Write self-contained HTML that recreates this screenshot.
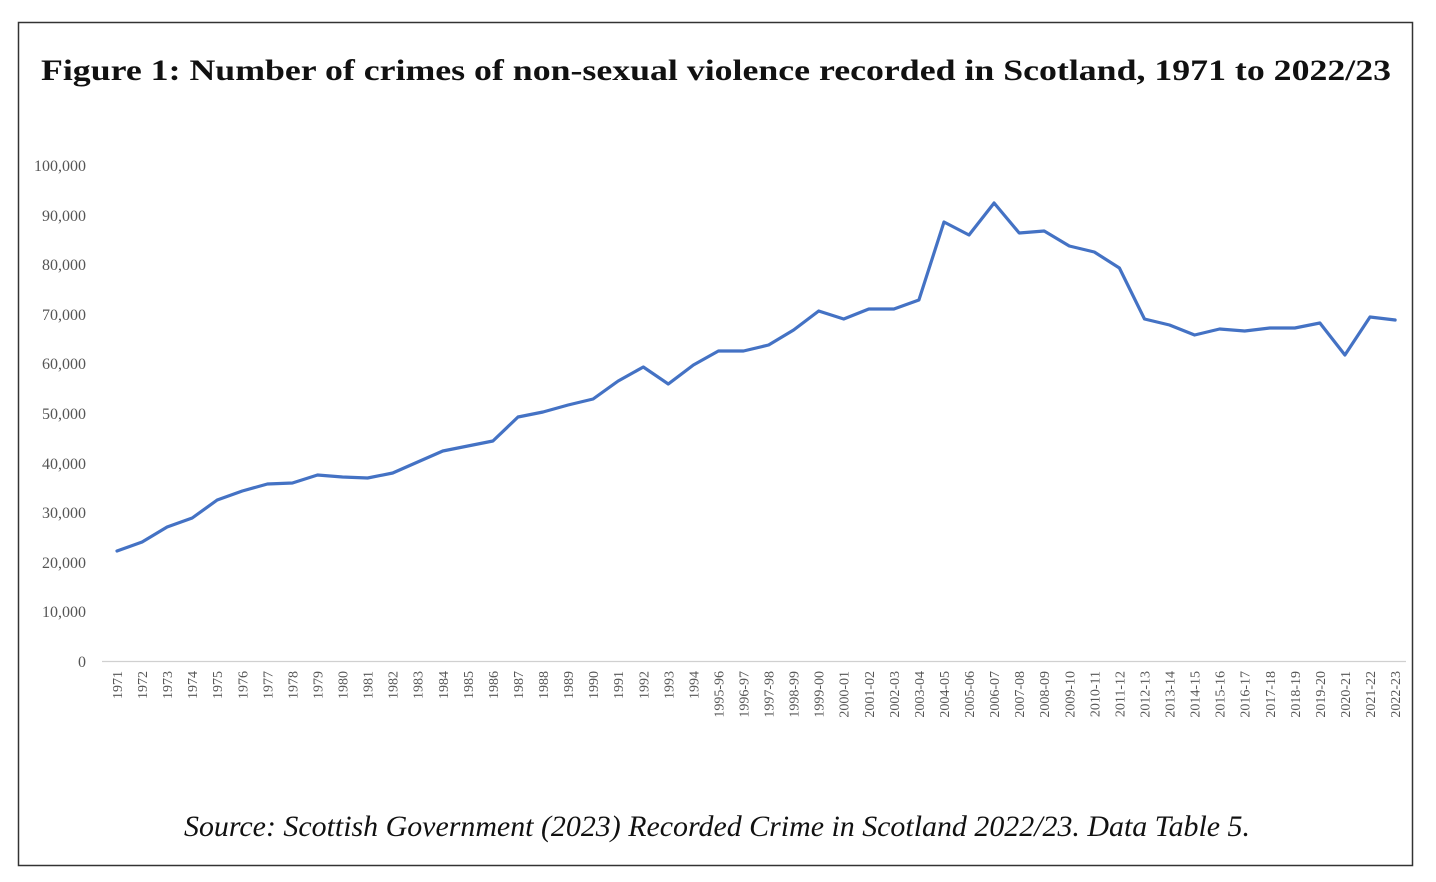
<!DOCTYPE html>
<html><head><meta charset="utf-8"><style>
html,body{margin:0;padding:0;background:#fff;}
svg{display:block;}
</style></head><body>
<svg width="1436" height="882" xmlns="http://www.w3.org/2000/svg">
<rect x="0" y="0" width="1436" height="882" fill="#fff"/>
<rect x="18.5" y="22.5" width="1394" height="843" fill="none" stroke="#333" stroke-width="1.5"/>
<text x="716" y="80" text-anchor="middle" font-family="Liberation Serif, serif" font-weight="bold" font-size="30" textLength="1350" lengthAdjust="spacingAndGlyphs" fill="#111">Figure 1: Number of crimes of non-sexual violence recorded in Scotland, 1971 to 2022/23</text>
<g font-family="Liberation Serif, serif" font-size="16" fill="#555" text-anchor="end">
<text x="86" y="667">0</text>
<text x="86" y="617">10,000</text>
<text x="86" y="568">20,000</text>
<text x="86" y="518">30,000</text>
<text x="86" y="469">40,000</text>
<text x="86" y="419">50,000</text>
<text x="86" y="369">60,000</text>
<text x="86" y="320">70,000</text>
<text x="86" y="270">80,000</text>
<text x="86" y="221">90,000</text>
<text x="86" y="171">100,000</text>
</g>
<line x1="102" y1="661.5" x2="1406" y2="661.5" stroke="#d0d0d0" stroke-width="1.2"/>
<g id="xl" font-family="Liberation Serif, serif" font-size="14" fill="#555" text-anchor="end"></g>
<polyline id="ln" fill="none" stroke="#4472C4" stroke-width="3.2" stroke-linejoin="round" stroke-linecap="round" points=""/>
<text x="717" y="836" text-anchor="middle" font-family="Liberation Serif, serif" font-style="italic" font-size="30" textLength="1066" lengthAdjust="spacingAndGlyphs" fill="#111">Source: Scottish Government (2023) Recorded Crime in Scotland 2022/23. Data Table 5.</text>
</svg>
<script>
var labels=[];for(var y=1971;y<=1994;y++)labels.push(""+y);
for(var y=1995;y<=2022;y++){labels.push(y+"-"+String((y+1)%100).padStart(2,"0"));}
var ys=[551,542,527,518,500,491,484,483,475,477,478,473,462,451,446,441,417,412,405,399,381,367,384,365,351,351,345,330,311,319,309,309,300,222,235,203,233,231,246,252,268,319,325,335,329,331,328,328,323,355,317,320];
var g=document.getElementById("xl"),pts=[];
for(var i=0;i<labels.length;i++){var x=117+i*25.06;pts.push(x.toFixed(1)+","+ys[i]);
var t=document.createElementNS("http://www.w3.org/2000/svg","text");
t.setAttribute("transform","translate("+(x+5).toFixed(1)+",671) rotate(-90)");t.textContent=labels[i];g.appendChild(t);}
document.getElementById("ln").setAttribute("points",pts.join(" "));
</script>
</body></html>
